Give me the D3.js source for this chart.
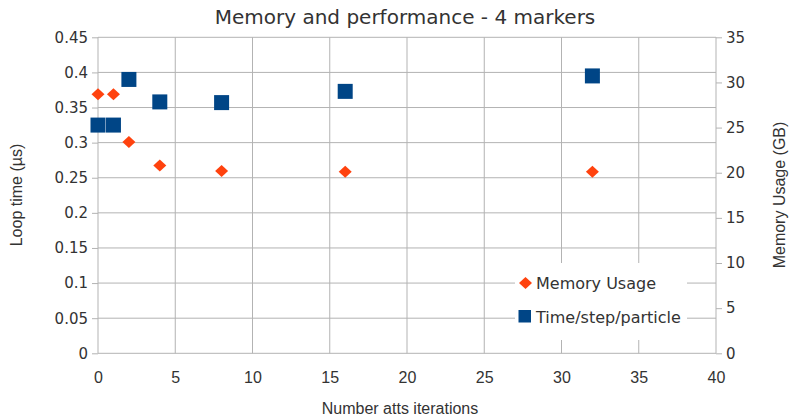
<!DOCTYPE html>
<html>
<head>
<meta charset="utf-8">
<script src="https://cdn.jsdelivr.net/npm/d3@7"></script>
<style>
  body { margin: 0; background: #fff; }
  svg { display: block; }
  text { fill: #333; }
</style>
</head>
<body>
<svg id="chart" width="793" height="417"></svg>
<script>
"use strict";

// x values (number of atts iterations)
const iterations = [0, 1, 2, 4, 8, 16, 32];
// memory usage in GB (right axis)
const memoryGB = [28.7, 28.7, 23.4, 20.8, 20.2, 20.1, 20.1];
// loop time in microseconds (left axis)
const loopTime = [0.325, 0.325, 0.39, 0.358, 0.357, 0.373, 0.395];

const xTicks = [0, 5, 10, 15, 20, 25, 30, 35, 40];
const leftTicks = [0, 0.05, 0.1, 0.15, 0.2, 0.25, 0.3, 0.35, 0.4, 0.45];
const rightTicks = [0, 5, 10, 15, 20, 25, 30, 35];

const seriesNames = ["Memory Usage", "Time/step/particle"];

const orange = "#ff420e";
const blue = "#004586";
const gridColor = "#b3b3b3";

const svg = d3.select("#chart");

const plot = { left: 98, right: 716, top: 37.3, bottom: 353.3 };

const x = d3.scaleLinear().domain([0, 40]).range([plot.left, plot.right]);
const yLeft = d3.scaleLinear().domain([0, 0.45]).range([plot.bottom, plot.top]);
const yRight = d3.scaleLinear().domain([0, 35]).range([plot.bottom, plot.top]);

// grid lines
const grid = svg.append("g").attr("stroke", gridColor).attr("stroke-width", 1);
grid.selectAll("line.h")
    .data(leftTicks)
    .enter().append("line")
    .attr("x1", plot.left).attr("x2", plot.right)
    .attr("y1", d => yLeft(d)).attr("y2", d => yLeft(d));
grid.selectAll("line.v")
    .data(xTicks)
    .enter().append("line")
    .attr("y1", plot.top).attr("y2", plot.bottom)
    .attr("x1", d => x(d)).attr("x2", d => x(d));

// axes
const fmt = d => String(+d.toFixed(2));

const leftAxis = svg.append("g")
    .attr("transform", `translate(${plot.left},0)`)
    .call(d3.axisLeft(yLeft).tickValues(leftTicks).tickFormat(fmt).tickSize(6).tickPadding(4));

const rightAxis = svg.append("g")
    .attr("transform", `translate(${plot.right},0)`)
    .call(d3.axisRight(yRight).tickValues(rightTicks).tickFormat(fmt).tickSize(6).tickPadding(4));

const bottomAxis = svg.append("g")
    .attr("transform", `translate(0,${plot.bottom})`)
    .call(d3.axisBottom(x).tickValues(xTicks).tickFormat(fmt).tickSize(0).tickPadding(18));

[leftAxis, rightAxis, bottomAxis].forEach(a => {
    a.select(".domain").remove();
    a.selectAll(".tick line").attr("stroke", gridColor);
    a.selectAll(".tick text").attr("fill", "#333");
});
leftAxis.selectAll("text").attr("font-family", "DejaVu Sans").attr("font-size", 15);
rightAxis.selectAll("text").attr("font-family", "DejaVu Sans").attr("font-size", 15);
bottomAxis.selectAll("text").attr("font-family", "Liberation Sans Narrow, Liberation Sans").attr("font-size", 16);

// legend box (white, covers the grid)
const legend = svg.append("g");
legend.append("rect")
    .attr("x", 515).attr("y", 263).attr("width", 172).attr("height", 77)
    .attr("fill", "#fff");

const diamond = "M0,-6L6.5,0L0,6L-6.5,0Z";

legend.append("path")
    .attr("d", diamond)
    .attr("transform", "translate(525.5,283)")
    .attr("fill", orange);
legend.append("rect")
    .attr("x", 518.5).attr("y", 310).attr("width", 12.5).attr("height", 12.5)
    .attr("fill", blue);
legend.selectAll("text")
    .data(seriesNames)
    .enter().append("text")
    .attr("x", 536)
    .attr("y", (d, i) => 283 + i * 34)
    .attr("dy", "0.35em")
    .attr("font-family", "DejaVu Sans")
    .attr("font-size", 16)
    .text(d => d);

// markers
const points = iterations.map((it, i) => ({ it: it, mem: memoryGB[i], time: loopTime[i] }));

svg.append("g").selectAll("path")
    .data(points)
    .enter().append("path")
    .attr("d", diamond)
    .attr("transform", d => `translate(${x(d.it)},${yRight(d.mem)})`)
    .attr("fill", orange);

svg.append("g").selectAll("rect")
    .data(points)
    .enter().append("rect")
    .attr("x", d => x(d.it) - 7.5)
    .attr("y", d => yLeft(d.time) - 7.5)
    .attr("width", 15).attr("height", 15)
    .attr("fill", blue);

// titles
svg.append("text")
    .attr("x", 405).attr("y", 24)
    .attr("text-anchor", "middle")
    .attr("font-family", "DejaVu Sans")
    .attr("font-size", 20)
    .text("Memory and performance - 4 markers");

svg.append("text")
    .attr("transform", "translate(22,195) rotate(-90)")
    .attr("text-anchor", "middle")
    .attr("font-family", "Liberation Sans Narrow, Liberation Sans")
    .attr("font-size", 16)
    .text("Loop time (µs)");

svg.append("text")
    .attr("transform", "translate(785,195) rotate(-90)")
    .attr("text-anchor", "middle")
    .attr("font-family", "Liberation Sans Narrow, Liberation Sans")
    .attr("font-size", 16)
    .text("Memory Usage (GB)");

svg.append("text")
    .attr("x", 400).attr("y", 414)
    .attr("text-anchor", "middle")
    .attr("font-family", "Liberation Sans Narrow, Liberation Sans")
    .attr("font-size", 16)
    .text("Number atts iterations");
</script>
</body>
</html>
